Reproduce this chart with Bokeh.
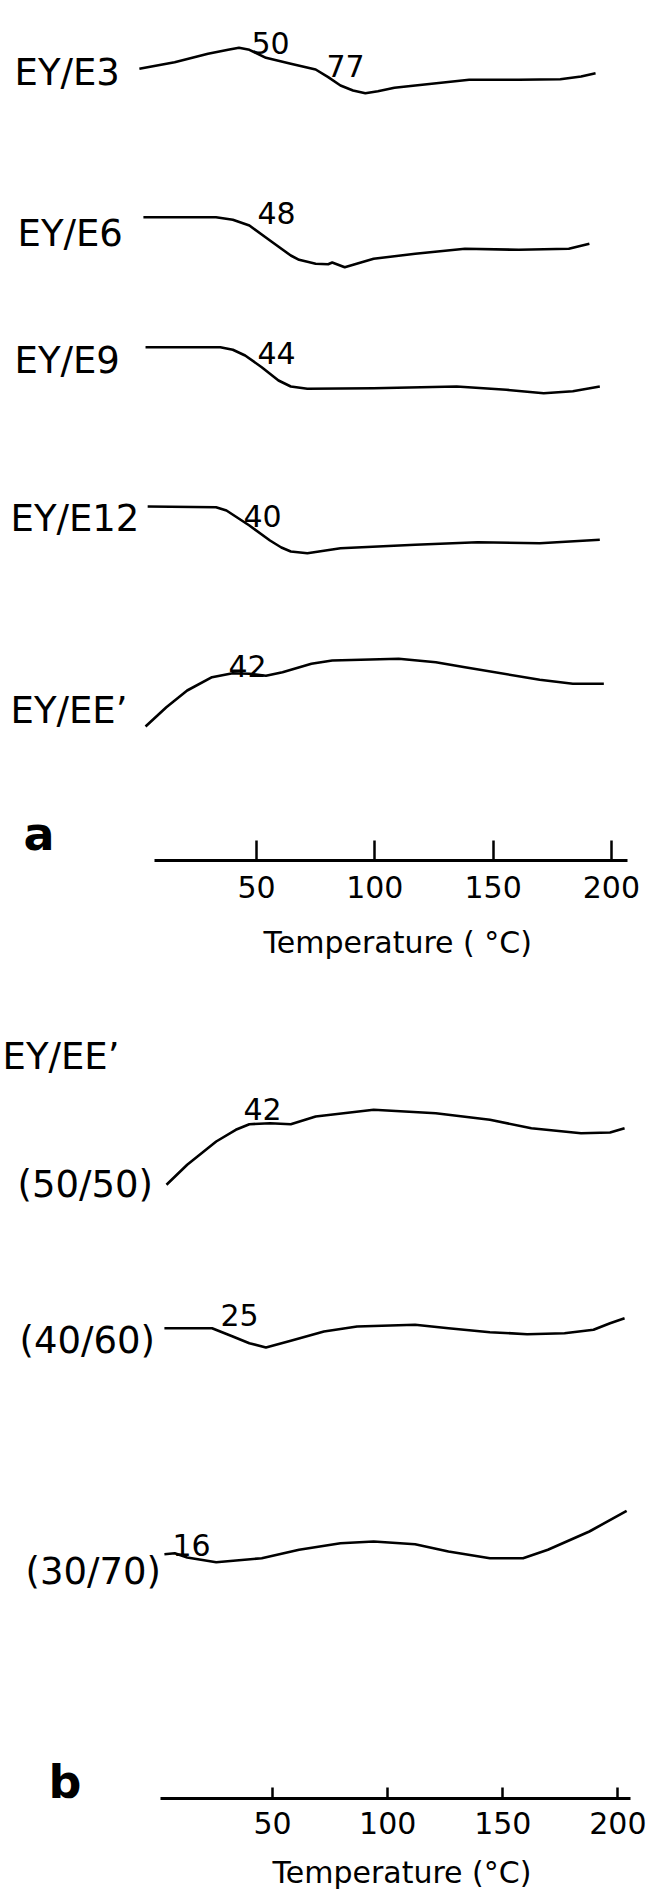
from bokeh.plotting import figure
from bokeh.models import Range1d, FixedTicker, Label, Title
from bokeh.layouts import column
from bokeh.embed import file_html
from bokeh.resources import INLINE

FONT = "DejaVu Sans"

# ---------------- Panel a : EY blended with epoxidized compounds ----------------
a_names = ["EY/E3", "EY/E6", "EY/E9", "EY/E12", "EY/EE\u2019"]
a_transitions = [[50, 77], [48], [44], [40], [42]]

a_T_E3 = [0.5, 15.4, 29.5, 38.0, 42.6, 47.0, 54.0, 64.5, 75.0, 80.3, 85.5, 90.8, 96.0, 101.3, 108.3, 117.1, 139.9, 160.9, 178.4, 187.2, 193.3]
a_s_E3 = [0, 6.6, 15, 19, 21, 19, 11, 5, -0.7, -8.4, -16.7, -21.7, -24.4, -22.4, -19, -16.7, -11, -11, -10.4, -7.7, -4.4]

a_T_E6 = [2.2, 32.9, 40.0, 47.0, 55.7, 64.5, 68.0, 75.0, 80.3, 82.0, 87.3, 99.5, 117.1, 138.1, 160.9, 182.0, 190.7]
a_s_E6 = [0, 0, -2.6, -8.3, -23.3, -38.3, -42.6, -46.6, -47, -45.3, -50, -41.6, -36.6, -31.6, -32.6, -31.6, -26.6]

a_T_E9 = [3.1, 34.7, 40.0, 45.2, 52.2, 59.3, 64.5, 71.5, 99.5, 134.6, 155.6, 171.4, 183.7, 195.1]
a_s_E9 = [0, 0, -2.6, -8.3, -20, -33.3, -39.3, -41.6, -41, -39.3, -42.6, -46, -44, -39.3]

a_T_E12 = [4.0, 32.9, 37.3, 47.0, 55.7, 60.5, 64.5, 71.5, 85.5, 117.1, 143.4, 169.7, 195.1]
a_s_E12 = [0, -0.7, -4, -19, -34, -41, -45, -46.7, -41.7, -38.3, -35.7, -36.7, -33.3]

a_T_EE = [3.1, 11.9, 20.7, 31.2, 39.9, 47.0, 54.0, 61.0, 73.2, 82.0, 110.1, 125.8, 138.1, 169.7, 183.7, 196.8]
a_s_EE = [0, 19.3, 36, 49.3, 53.3, 52.7, 50.7, 54.3, 62.7, 66, 67.7, 64.3, 59.3, 46.7, 42.7, 42.7]

a_ticks = [50, 100, 150, 200]
a_xlabel = "Temperature ( \u00b0C)"

# ---------------- Panel b : EY/EE' at three ratios ----------------
b_names = ["(50/50)", "(40/60)", "(30/70)"]
b_transitions = [[42], [25], [16]]

b_T_5050 = [3.9, 12.9, 25.5, 34.0, 39.9, 48.9, 57.9, 68.7, 93.9, 120.9, 144.4, 162.4, 184.0, 196.6, 202.9]
b_s_5050 = [0, 20, 43.3, 55, 60.6, 61.6, 60.6, 68.3, 75, 71.6, 65, 56.6, 51.6, 52.3, 56.6]

b_T_4060 = [3.0, 23.7, 32.7, 39.9, 47.1, 57.9, 72.3, 86.7, 111.9, 126.4, 144.4, 160.6, 176.8, 189.4, 196.6, 202.9]
b_s_4060 = [0, 0, -8.3, -15, -19.3, -12.6, -3.3, 1.7, 3.4, 0, -4, -6, -5, -1.6, 5, 10]

b_T_3070 = [3.0, 7.5, 12.9, 25.5, 45.3, 61.5, 79.5, 93.9, 111.9, 126.4, 144.4, 158.8, 169.6, 187.6, 203.8]
b_s_3070 = [0, 1, -3.3, -8, -4, 4.4, 11, 12.7, 10, 2.7, -4, -4, 4.4, 22.7, 43.4]

b_ticks = [50, 100, 150, 200]
b_xlabel = "Temperature (\u00b0C)"

# ---------------- layout (page pixels) ----------------
W = 647
A_PX50, A_SCALE = 256.0, 2.366     # pixel of 50 degC and px per degC (panel a)
B_PX50, B_SCALE = 272.1, 2.302     # same for panel b
A_AXIS_Y = 860
A_TOTAL_GUESS = 981
B_AXIS_Y = 1797


def px2t(px, px50, scale):
    return 50 + (px - px50) / scale


a_curves = [(a_T_E3, a_s_E3), (a_T_E6, a_s_E6), (a_T_E9, a_s_E9), (a_T_E12, a_s_E12), (a_T_EE, a_s_EE)]
a_base = [68.3, 216.7, 346.7, 506, 726]
a_name_pos = [(14, 72), (17, 233), (14, 360), (10, 518), (10, 710)]
a_num_pos = [[(251, 42), (326, 65)], [(257, 212)], [(257, 352)], [(243, 515)], [(228, 665)]]

b_curves = [(b_T_5050, b_s_5050), (b_T_4060, b_s_4060), (b_T_3070, b_s_3070)]
b_base = [1183.3, 1326.7, 1552.7]
b_name_pos = [(17, 1183), (19, 1339), (25, 1570)]
b_num_pos = [[(243, 1107)], [(220, 1313)], [(172, 1543)]]


def make_panel(px50, scale, y_top, y_bot, bounds, ticks, tick_in, std_lbl,
               title, title_x, title_standoff):
    p = figure(frame_width=W, frame_height=int(round(y_bot - y_top)),
               x_range=Range1d(px2t(0, px50, scale), px2t(W, px50, scale)),
               y_range=Range1d(y_bot, y_top),
               output_backend="svg", toolbar_location=None, min_border=0,
               y_axis_location=None)
    p.outline_line_color = None
    p.grid.visible = False
    p.background_fill_color = "white"
    p.border_fill_color = "white"
    ax = p.xaxis[0]
    ax.ticker = FixedTicker(ticks=ticks)
    ax.bounds = bounds
    ax.axis_line_width = 3
    ax.axis_line_color = "black"
    ax.major_tick_line_width = 2.5
    ax.major_tick_line_color = "black"
    ax.major_tick_in = tick_in
    ax.major_tick_out = 0
    ax.minor_tick_line_color = None
    ax.major_label_text_font = FONT
    ax.major_label_text_font_size = "30px"
    ax.major_label_text_color = "black"
    ax.major_label_standoff = std_lbl
    # axis title, placed under the axis and shifted to where the original prints it
    p.add_layout(Title(text=title, align="left", offset=title_x, standoff=title_standoff,
                       text_font=FONT, text_font_size="30px", text_font_style="normal",
                       text_color="black"), "below")
    return p


def add_text(p, text, xpx, y, size, px50, scale, bold=False):
    p.add_layout(Label(x=px2t(xpx, px50, scale), y=y, x_units="data", y_units="data",
                       text=text, text_font=FONT, text_font_size=size, text_color="black",
                       text_baseline="alphabetic", text_align="left",
                       text_font_style="bold" if bold else "normal"))


# panel a
pa = make_panel(A_PX50, A_SCALE, 0, A_AXIS_Y, (7, 207), a_ticks, 20, 15, a_xlabel, 263, 45)
for (T, s), base, name, npos, trans, nums in zip(a_curves, a_base, a_names, a_name_pos,
                                                  a_transitions, a_num_pos):
    pa.line(T, [base - v for v in s], line_color="black", line_width=2.6, line_join="round")
    add_text(pa, name, npos[0], npos[1], "37px", A_PX50, A_SCALE)
    for t, (nx, ny) in zip(trans, nums):
        add_text(pa, str(t), nx, ny, "30px", A_PX50, A_SCALE)
add_text(pa, "a", 23, 833, "46px", A_PX50, A_SCALE, bold=True)

# panel b
pb = make_panel(B_PX50, B_SCALE, A_TOTAL_GUESS, B_AXIS_Y, (1.3, 205.5), b_ticks, 11, 13,
                b_xlabel, 272, 33)
add_text(pb, "EY/EE\u2019", 2, 1055, "37px", B_PX50, B_SCALE)
for (T, s), base, name, npos, trans, nums in zip(b_curves, b_base, b_names, b_name_pos,
                                                  b_transitions, b_num_pos):
    pb.line(T, [base - v for v in s], line_color="black", line_width=2.6, line_join="round")
    add_text(pb, name, npos[0], npos[1], "37px", B_PX50, B_SCALE)
    for t, (nx, ny) in zip(trans, nums):
        add_text(pb, str(t), nx, ny, "30px", B_PX50, B_SCALE)
add_text(pb, "b", 48, 1780, "46px", B_PX50, B_SCALE, bold=True)

layout = column(pa, pb, spacing=0)
open("out.html", "w").write(file_html(layout, INLINE))
